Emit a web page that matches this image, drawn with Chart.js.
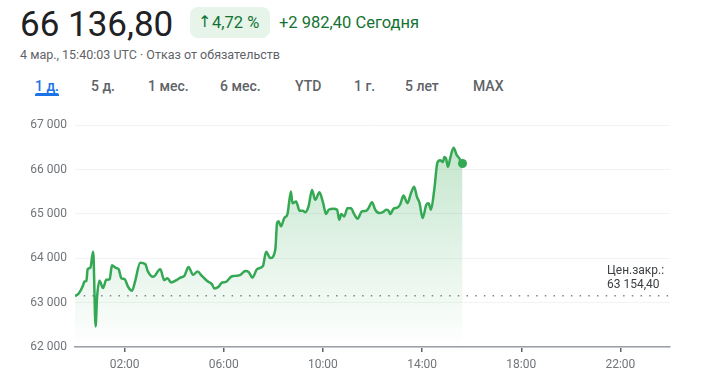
<!DOCTYPE html>
<html>
<head>
<meta charset="utf-8">
<script src="https://cdn.jsdelivr.net/npm/chart.js@4/dist/chart.umd.min.js"></script>
<style>
  body { margin: 0; background: #fff; font-family: Roboto, Arial, sans-serif; width: 702px; height: 382px; overflow: hidden; position: relative; }
  .abs { position: absolute; white-space: nowrap; }
  #price { left: 20px; top: 8px; font-size: 35px; line-height: 34px; color: #202124; }
  #badge { left: 190px; top: 7px; width: 80px; height: 31px; border-radius: 8px; background: #e6f4ea; }
  #arrow { left: 198px; top: 14px; font-size: 16px; line-height: 16px; color: #137333; font-family: 'DejaVu Sans', sans-serif; }
  #pct { left: 212px; top: 15px; font-size: 16.5px; line-height: 16px; color: #137333; }
  #chg { left: 279px; top: 15px; font-size: 16.5px; line-height: 16px; color: #137333; }
  #sub { left: 20px; top: 49px; font-size: 12.5px; line-height: 12px; color: #5f6368; }
  .tab { top: 79px; font-size: 14px; line-height: 14px; color: #5f6368; font-weight: 500; }
  .tab.on { color: #1a73e8; }
  #uline { left: 35px; top: 93px; width: 24px; height: 3px; border-radius: 2px 2px 0 0; background: #1a73e8; }
  #close { left: 607px; top: 263px; font-size: 12px; line-height: 14px; color: #3c4043; }
  #wrap { position: absolute; left: 0; top: 110px; }
</style>
</head>
<body>
<div class="abs" id="price">66 136,80</div>
<div class="abs" id="badge"></div>
<div class="abs" id="arrow">↑</div>
<div class="abs" id="pct">4,72 %</div>
<div class="abs" id="chg">+2 982,40 Сегодня</div>
<div class="abs" id="sub">4 мар., 15:40:03 UTC · Отказ от обязательств</div>
<div class="abs tab on" style="left:35px">1 д.</div>
<div class="abs" id="uline"></div>
<div class="abs tab" style="left:91px">5 д.</div>
<div class="abs tab" style="left:148px">1 мес.</div>
<div class="abs tab" style="left:220px">6 мес.</div>
<div class="abs tab" style="left:295px">YTD</div>
<div class="abs tab" style="left:354px">1 г.</div>
<div class="abs tab" style="left:405px">5 лет</div>
<div class="abs tab" style="left:473px">MAX</div>
<div id="wrap"><canvas id="chart" width="702" height="272"></canvas></div>
<div class="abs" id="close">Цен.закр.:<br>63 154,40</div>
<script>
// time of day in hours (UTC)
const hours = [
  0, 0.15, 0.32, 0.38, 0.46, 0.51, 0.62, 0.73, 0.75, 0.83,
  0.89, 0.99, 1.13, 1.26, 1.40, 1.49, 1.63, 1.76, 1.87, 2.00,
  2.14, 2.30, 2.43, 2.63, 2.84, 2.93, 3.15, 3.44, 3.60, 3.73,
  3.88, 4.09, 4.25, 4.41, 4.58, 4.76, 4.94, 5.12, 5.32, 5.52,
  5.62, 5.79, 5.93, 6.09, 6.29, 6.46, 6.67, 6.87, 7.00, 7.16,
  7.34, 7.58, 7.71, 7.88, 8.08, 8.15, 8.21, 8.31, 8.44, 8.57,
  8.71, 8.77, 8.92, 9.06, 9.19, 9.29, 9.42, 9.56, 9.69, 9.86,
  10.00, 10.13, 10.23, 10.43, 10.57, 10.66, 10.74, 10.86, 10.99, 11.13,
  11.26, 11.40, 11.57, 11.75, 11.84, 11.98, 12.11, 12.28, 12.42, 12.55,
  12.65, 12.71, 12.85, 13.01, 13.12, 13.25, 13.41, 13.55, 13.68, 13.79,
  13.90, 14.02, 14.17, 14.26, 14.36, 14.49, 14.62, 14.73, 14.84, 14.90,
  14.97, 15.04, 15.13, 15.27, 15.40, 15.51, 15.63
];
const prices = [
  63150, 63208, 63380, 63476, 63492, 63753, 63789, 64146, 64012, 62464,
  63118, 63492, 63328, 63514, 63530, 63842, 63789, 63753, 63552, 63530,
  63358, 63268, 63492, 63901, 63865, 63715, 63581, 63753, 63507, 63552,
  63454, 63507, 63565, 63603, 63804, 63626, 63700, 63603, 63492, 63418,
  63320, 63358, 63454, 63469, 63581, 63603, 63626, 63715, 63693, 63565,
  63753, 63827, 64146, 64006, 64200, 64794, 64832, 64721, 64906, 64996,
  65503, 65241, 65279, 65071, 65071, 65040, 65168, 65541, 65317, 65487,
  65264, 64996, 65094, 65116, 65094, 64870, 64996, 64944, 65130, 65130,
  64996, 64893, 65056, 65072, 65130, 65264, 65094, 65018, 65040, 65094,
  65072, 64996, 65116, 65145, 65219, 65413, 65241, 65465, 65615, 65391,
  65241, 64906, 65206, 65241, 65094, 65541, 66158, 66211, 66173, 66285,
  66247, 66061, 66247, 66493, 66323, 66247, 66136.8
];
const prevClose = 63154.4;
const xTicks = [2, 6, 10, 14, 18, 22];
const yTicks = [62000, 63000, 64000, 65000, 66000, 67000];

const green = '#34a853';
const fmt = v => String(v).replace(/\B(?=(\d{3})+(?!\d))/g, ' ');

const ctx = document.getElementById('chart').getContext('2d');
new Chart(ctx, {
  type: 'line',
  data: {
    datasets: [
      {
        data: hours.map((h, i) => ({ x: h, y: prices[i] })),
        borderColor: green,
        borderWidth: 2.5,
        cubicInterpolationMode: 'monotone',
        pointRadius: hours.map((h, i) => i === hours.length - 1 ? 4.5 : 0),
        pointBackgroundColor: green,
        pointBorderWidth: 0,
        fill: 'start',
        backgroundColor: c => {
          const area = c.chart.chartArea;
          if (!area) return 'rgba(52,168,83,0.1)';
          const g = c.chart.ctx.createLinearGradient(0, area.top, 0, area.bottom);
          g.addColorStop(0, 'rgba(52,168,83,0.32)');
          g.addColorStop(1, 'rgba(52,168,83,0.0)');
          return g;
        }
      },
      {
        data: [{ x: 0, y: prevClose }, { x: 24, y: prevClose }],
        borderColor: '#80868b',
        borderWidth: 1.5,
        borderDash: [1.5, 7.2],
        pointRadius: 0,
        fill: false
      }
    ]
  },
  options: {
    responsive: false,
    animation: false,
    layout: { padding: { top: 13.3, right: 32, left: 0, bottom: 0 } },
    plugins: { legend: { display: false }, tooltip: { enabled: false } },
    scales: {
      x: {
        type: 'linear',
        min: 0,
        max: 24,
        afterBuildTicks: s => { s.ticks = xTicks.map(v => ({ value: v })); },
        afterFit: s => { s.height = 35; },
        grid: { drawOnChartArea: false, drawTicks: true, tickLength: 5, color: '#5f6368', lineWidth: 1.5 },
        border: { color: '#9aa0a6', width: 1.5 },
        ticks: {
          padding: 6,
          color: '#70757a',
          font: { family: 'Roboto', size: 12 },
          maxRotation: 0,
          callback: v => String(v).padStart(2, '0') + ':00'
        }
      },
      y: {
        min: 62000,
        max: 67000,
        afterBuildTicks: s => { s.ticks = yTicks.map(v => ({ value: v })); },
        afterFit: s => { s.width = 75; },
        grid: { color: '#f1f3f4', drawTicks: false, lineWidth: 1 },
        border: { display: false },
        ticks: {
          padding: 8,
          color: '#70757a',
          font: { family: 'Roboto', size: 12 },
          callback: v => fmt(v)
        }
      }
    }
  }
});
</script>
</body>
</html>
